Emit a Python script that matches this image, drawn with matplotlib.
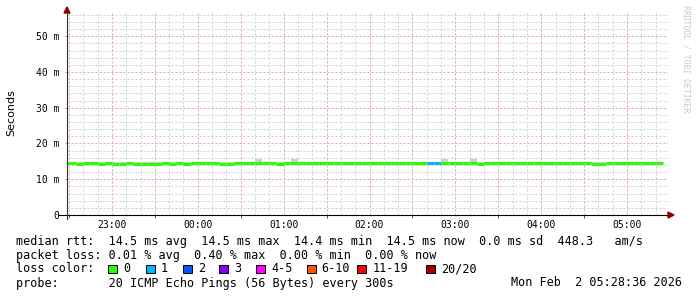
import matplotlib
matplotlib.use("Agg")
import matplotlib.pyplot as plt
import numpy as np
from matplotlib.ticker import FixedLocator, FuncFormatter
from matplotlib.patches import Rectangle, Polygon

plt.rcParams['font.family'] = ['DejaVu Sans Mono']

# median rtt (ms) per 5 minute step, first step starts 22:25
median = [14.54, 14.54, 14.37, 14.54, 14.54, 14.37, 14.54, 14.37, 14.37, 14.54, 14.37, 14.37,
          14.37, 14.37, 14.54, 14.37, 14.54, 14.37, 14.54, 14.54, 14.54, 14.54, 14.37, 14.37,
          14.54, 14.54, 14.54, 14.54, 14.54, 14.54, 14.37, 14.54, 14.54, 14.54, 14.54, 14.54,
          14.54, 14.54, 14.54, 14.54, 14.54, 14.54, 14.54, 14.54, 14.54, 14.54, 14.54, 14.54,
          14.54, 14.54, 14.54, 14.54, 14.54, 14.54, 14.54, 14.54, 14.54, 14.54, 14.37, 14.54,
          14.54, 14.54, 14.54, 14.54, 14.54, 14.54, 14.54, 14.54, 14.54, 14.54, 14.54, 14.54,
          14.54, 14.54, 14.37, 14.37, 14.54, 14.54, 14.54, 14.54, 14.54, 14.54, 14.54, 14.54]
# lost pings out of 20 per step
loss = [0] * 51 + [1, 1] + [0] * 31
# highest ping per step (smoke)
smoke_hi = [14.7] * 27 + [15.6] + [14.7] * 4 + [15.6] + [14.7] * 20 + [15.6] + [14.7] * 3 + [15.6] + [14.7] * 26
smoke_lo = [14.3] * 84

step_start = 22 + 25 / 60.0
step_len = 5 / 60.0
t_begin = 22 + 28.6 / 60.0
t_end = 29 + 28.6 / 60.0

loss_labels = ['0', '1', '2', '3', '4-5', '6-10', '11-19', '20/20']
loss_colors = ['#26ff00', '#00b8ff', '#0059ff', '#7e00ff', '#ff00ff', '#ff5500', '#ff0000', '#a10000']
loss_bins = [0, 1, 2, 3, 5, 10, 19, 20]

yticks = [0, 10, 20, 30, 40, 50]
xticks = [23, 24, 25, 26, 27, 28, 29]

W, H = 697, 297
fig = plt.figure(figsize=(W / 100, H / 100), dpi=100)
fig.patch.set_facecolor('white')
ax = fig.add_axes([67 / W, 1 - 215 / H, 601 / W, 202 / H])
ax.set_xlim(t_begin, t_end)
ax.set_ylim(0, 56.5)
for s in ax.spines.values():
    s.set_visible(False)

# grid: minor every 10 min / 2 m, major every 30 min / 10 m
for i in range(42):
    gx = 22.5 + i * 10 / 60.0
    major = i % 3 == 0
    ax.axvline(gx, color='#eba0a0' if major else '#cfcfcf', lw=0.72,
               ls=(0, (2, 2)), zorder=0 if not major else 0.5)
for gy in range(2, 57, 2):
    major = gy % 10 == 0
    ax.axhline(gy, color='#eba0a0' if major else '#cfcfcf', lw=0.72,
               ls=(0, (2, 2)), zorder=0 if not major else 0.5)

n = len(median)
starts = step_start + step_len * np.arange(n)
edges = np.append(starts, starts[-1] + step_len)

# smoke
ax.fill_between(edges, np.append(smoke_lo, smoke_lo[-1]), np.append(smoke_hi, smoke_hi[-1]),
                step='post', color='#d0d0d0', lw=0, zorder=1)

# median line coloured by loss
cols = []
for l in loss:
    for k, b in enumerate(loss_bins):
        if l <= b:
            cols.append(loss_colors[k])
            break
ax.hlines(median, starts, starts + step_len, colors=cols, lw=2.2, zorder=2)

# axes lines and arrows
ax.plot([-9 / 601, 1], [0, 0], transform=ax.transAxes, color='black', lw=0.8, clip_on=False, zorder=3)
ax.plot([0, 0], [-4 / 202, 1], transform=ax.transAxes, color='#333333', lw=0.8, clip_on=False, zorder=3)
fig.patches.append(Polygon([[668 / W, 1 - 212 / H], [668 / W, 1 - 218 / H], [674 / W, 1 - 215 / H]],
                           closed=True, transform=fig.transFigure, color='#8b0000'))
fig.patches.append(Polygon([[64 / W, 1 - 13 / H], [70 / W, 1 - 13 / H], [67 / W, 1 - 7 / H]],
                           closed=True, transform=fig.transFigure, color='#8b0000'))

ax.yaxis.set_major_locator(FixedLocator(yticks))
ax.yaxis.set_major_formatter(FuncFormatter(lambda v, p: '0' if v == 0 else '%d m' % v))
ax.xaxis.set_major_locator(FixedLocator(xticks))
ax.xaxis.set_major_formatter(FuncFormatter(lambda v, p: '%02d:00' % (int(round(v)) % 24)))
ax.xaxis.set_minor_locator(FixedLocator([22.5 + i for i in range(7)]))
ax.tick_params(axis='y', labelsize=7, length=1.5, width=0.6, color='#888888', pad=4)
ax.tick_params(axis='x', which='major', labelsize=7, length=0, pad=3.5)
ax.tick_params(axis='x', which='minor', length=2.5, width=0.7, color='#555555')

fig.text(11 / W, 1 - 113 / H, 'Seconds', rotation=90, va='center', ha='center',
         fontsize=8, family='DejaVu Sans')
fig.text(686 / W, 1 - 5 / H, 'RRDTOOL / TOBI OETIKER', rotation=-90, va='top', ha='center',
         fontsize=5.9, color='#c8c8c8')

# legend text
fs = 8.5
fig.text(16 / W, 1 - 241 / H,
         'median rtt:  14.5 ms avg  14.5 ms max  14.4 ms min  14.5 ms now  0.0 ms sd  448.3   am/s',
         va='center', ha='left', fontsize=fs)
fig.text(16 / W, 1 - 255 / H,
         'packet loss: 0.01 % avg  0.40 % max  0.00 % min  0.00 % now',
         va='center', ha='left', fontsize=fs)
fig.text(16 / W, 1 - 269 / H, 'loss color:', va='center', ha='left', fontsize=fs)
box_x = [108, 145.7, 182.7, 219.3, 256, 306.7, 357.3, 425.7]
for bx, lab, c in zip(box_x, loss_labels, loss_colors):
    fig.patches.append(Rectangle((bx / W, 1 - 273.3 / H), 9 / W, 8.6 / H, transform=fig.transFigure,
                                 facecolor=c, edgecolor='black', lw=0.7))
    fig.text((bx + 15) / W, 1 - 269 / H, lab, va='center', ha='left', fontsize=fs)
fig.text(16 / W, 1 - 283 / H, 'probe:       20 ICMP Echo Pings (56 Bytes) every 300s',
         va='center', ha='left', fontsize=fs)
fig.text(682 / W, 1 - 283 / H, 'Mon Feb  2 05:28:36 2026', va='center', ha='right', fontsize=fs)

fig.savefig('out.png', dpi=100)
